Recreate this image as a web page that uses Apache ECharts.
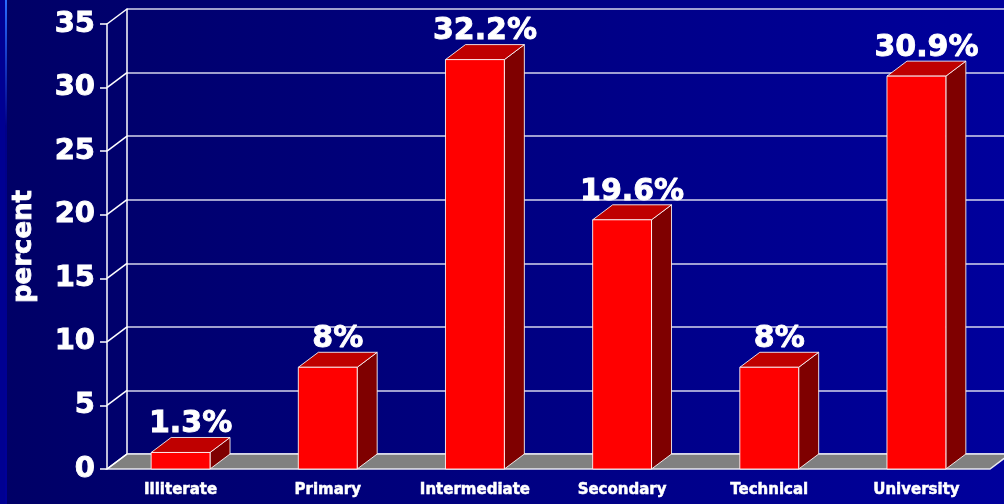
<!DOCTYPE html>
<html>
<head>
<meta charset="utf-8">
<script src="https://cdn.jsdelivr.net/npm/echarts@6/dist/echarts.min.js"></script>
<style>
  html, body { margin: 0; padding: 0; }
  #chart { width: 1004px; height: 504px; }
</style>
</head>
<body>
<div id="chart"></div>
<script>
// Education level of respondents
const categories = ['Illiterate', 'Primary', 'Intermediate', 'Secondary', 'Technical', 'University'];
const percents = [1.3, 8, 32.2, 19.6, 8, 30.9];
const yTicks = [0, 5, 10, 15, 20, 25, 30, 35];

// depth of the 3D extrusion, in pixels
const DX = 20, DY = 15;
const FONT = 'DejaVu Sans';

const chart = echarts.init(document.getElementById('chart'));

function renderBar(params, api) {
  const idx = api.value(0);
  const val = api.value(1);
  const top = api.coord([idx, val]);
  const base = api.coord([idx, 0]);
  const bw = api.size([1, 0])[0] * 0.4;
  const l = top[0] - bw / 2, r = top[0] + bw / 2;
  const t = top[1], b = base[1];
  const edge = { stroke: 'rgba(255,255,255,0.85)', lineWidth: 1 };
  return {
    type: 'group',
    children: [
      { type: 'polygon', shape: { points: [[r, t], [r + DX, t - DY], [r + DX, b - DY], [r, b]] },
        style: Object.assign({ fill: '#7f0000' }, edge) },
      { type: 'polygon', shape: { points: [[l, t], [r, t], [r + DX, t - DY], [l + DX, t - DY]] },
        style: Object.assign({ fill: '#bf0000' }, edge) },
      { type: 'rect', shape: { x: l, y: t, width: bw, height: b - t },
        style: Object.assign({ fill: '#ff0000' }, edge) },
      { type: 'text', style: {
          text: val + '%', x: top[0] + 10, y: t - DY - 13,
          align: 'center', verticalAlign: 'middle',
          fill: '#ffffff', stroke: '#ffffff', lineWidth: 0.9,
          fontFamily: FONT, fontWeight: 'bold', fontSize: 30 } }
    ]
  };
}

function renderFloor(params, api) {
  const cs = params.coordSys;
  const y0 = api.coord([0, 0])[1];
  const x0 = cs.x, x1 = cs.x + cs.width;
  return {
    type: 'polygon',
    shape: { points: [[x0, y0], [x1, y0], [x1 + DX, y0 - DY], [x0 + DX, y0 - DY]] },
    style: { fill: '#808080', stroke: '#e8e8f0', lineWidth: 1.5 }
  };
}

function renderTickLink(params, api) {
  const cs = params.coordSys;
  const y = api.coord([0, api.value(1)])[1];
  return {
    type: 'line',
    shape: { x1: cs.x, y1: y, x2: cs.x + DX, y2: y - DY },
    style: { stroke: '#ffffff', lineWidth: 1.5 }
  };
}

chart.setOption({
  backgroundColor: {
    type: 'linear', x: 0, y: 0, x2: 1, y2: 0,
    colorStops: [{ offset: 0, color: '#000066' }, { offset: 1, color: '#00009c' }]
  },
  animation: false,
  graphic: [
    { type: 'rect', shape: { x: 0, y: 0, width: 6, height: 504 }, style: { fill: '#000092' }, z: 0 },
    { type: 'rect', shape: { x: 5, y: 0, width: 2, height: 504 },
      style: { fill: { type: 'linear', x: 0, y: 0, x2: 0, y2: 1,
        colorStops: [{ offset: 0, color: '#2a6cff' }, { offset: 0.25, color: '#000088' }, { offset: 1, color: '#00009a' }] } }, z: 0 }
  ],
  grid: [
    { left: 107, top: 24, width: 883, height: 445, outerBoundsMode: 'none', containLabel: false },
    { left: 107 + DX, top: 24 - DY, width: 883, height: 445, outerBoundsMode: 'none', containLabel: false }
  ],
  xAxis: [
    { type: 'category', gridIndex: 0, data: categories,
      axisLine: { show: false }, axisTick: { show: false },
      axisLabel: { color: '#ffffff', fontFamily: FONT, fontWeight: 'bold', fontSize: 15, margin: 14,
        textBorderColor: '#ffffff', textBorderWidth: 0.5 } },
    { type: 'category', gridIndex: 1, data: categories, show: false }
  ],
  yAxis: [
    { type: 'value', gridIndex: 0, min: 0, max: 35, interval: 5,
      name: 'percent', nameLocation: 'middle', nameGap: 70, nameRotate: 90,
      nameTextStyle: { color: '#ffffff', fontFamily: FONT, fontWeight: 'bold', fontSize: 26,
        textBorderColor: '#ffffff', textBorderWidth: 0.8 },
      axisLine: { show: true, lineStyle: { color: '#ffffff', width: 1.5 } },
      axisTick: { show: true, inside: false, length: 7, lineStyle: { color: '#ffffff', width: 1.5 } },
      axisLabel: { color: '#ffffff', fontFamily: FONT, fontWeight: 'bold', fontSize: 29, margin: 12,
        textBorderColor: '#ffffff', textBorderWidth: 0.9 },
      splitLine: { show: false } },
    { type: 'value', gridIndex: 1, min: 0, max: 35, interval: 5,
      axisLine: { show: true, lineStyle: { color: '#ffffff', width: 1.5 } },
      axisTick: { show: false }, axisLabel: { show: false },
      splitLine: { show: true, lineStyle: { color: '#d4d4ec', width: 1.5 } } }
  ],
  series: [
    { type: 'custom', xAxisIndex: 0, yAxisIndex: 0, clip: false, z: 1,
      data: [[0, 0]], renderItem: renderFloor, silent: true },
    { type: 'custom', xAxisIndex: 0, yAxisIndex: 0, clip: false, z: 2,
      data: yTicks.map(v => [0, v]), renderItem: renderTickLink, silent: true },
    { type: 'custom', xAxisIndex: 0, yAxisIndex: 0, clip: false, z: 3,
      data: percents.map((v, i) => [i, v]), renderItem: renderBar }
  ]
});
</script>
</body>
</html>
